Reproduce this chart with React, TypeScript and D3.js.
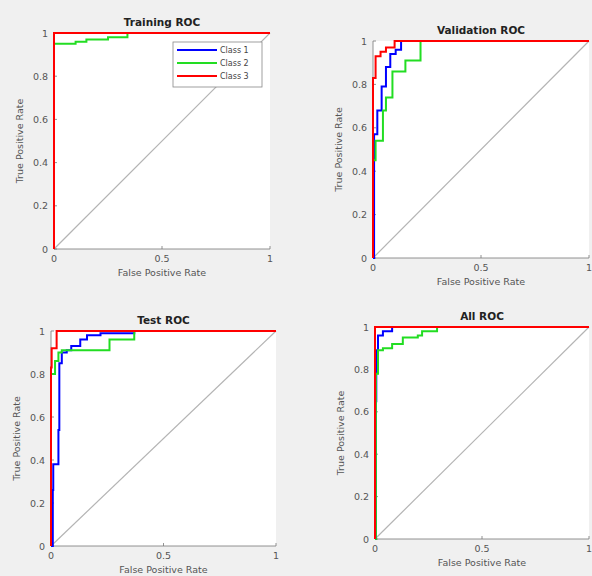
import React from "react";
import * as d3 from "d3";

type Pt = [number, number];

// ROC points as [false positive rate, true positive rate], step after each point
const classNames = ["Class 1", "Class 2", "Class 3"];
const classColors = ["#0000ff", "#22dd22", "#ff0000"];

const trainingC1: Pt[] = [[0, 0], [0, 1], [1, 1]];
const trainingC2: Pt[] = [[0, 0], [0, 0.95], [0.1, 0.96], [0.15, 0.97], [0.25, 0.98], [0.34, 1], [1, 1]];
const trainingC3: Pt[] = [[0, 0], [0, 1], [1, 1]];

const validationC1: Pt[] = [[0, 0], [0.005, 0.57], [0.02, 0.68], [0.04, 0.79], [0.06, 0.88], [0.08, 0.94], [0.105, 0.96], [0.13, 1], [1, 1]];
const validationC2: Pt[] = [[0, 0], [0, 0.45], [0.012, 0.54], [0.046, 0.68], [0.06, 0.74], [0.09, 0.86], [0.15, 0.91], [0.22, 1], [1, 1]];
const validationC3: Pt[] = [[0, 0], [0, 0.83], [0.012, 0.93], [0.035, 0.95], [0.06, 0.97], [0.1, 1], [1, 1]];

const testC1: Pt[] = [[0, 0], [0.008, 0.26], [0.01, 0.38], [0.033, 0.54], [0.037, 0.85], [0.048, 0.9], [0.07, 0.91], [0.09, 0.93], [0.13, 0.96], [0.16, 0.98], [0.22, 0.99], [0.37, 1], [1, 1]];
const testC2: Pt[] = [[0, 0], [0, 0.8], [0.018, 0.86], [0.033, 0.9], [0.048, 0.91], [0.26, 0.96], [0.37, 1], [1, 1]];
const testC3: Pt[] = [[0, 0], [0, 0.83], [0.003, 0.92], [0.025, 1], [1, 1]];

const allC1: Pt[] = [[0, 0], [0.004, 0.65], [0.006, 0.89], [0.014, 0.96], [0.037, 0.98], [0.08, 1], [1, 1]];
const allC2: Pt[] = [[0, 0], [0.004, 0.78], [0.014, 0.89], [0.037, 0.9], [0.08, 0.92], [0.13, 0.95], [0.2, 0.96], [0.22, 0.98], [0.29, 1], [1, 1]];
const allC3: Pt[] = [[0, 0], [0, 1], [1, 1]];

const xTicks = [0, 0.5, 1];
const yTicks = [0, 0.2, 0.4, 0.6, 0.8, 1];

const panels = [
  { title: "Training ROC", series: [trainingC1, trainingC2, trainingC3], box: { l: 54, r: 270, t: 33, b: 249 }, legend: true },
  { title: "Validation ROC", series: [validationC1, validationC2, validationC3], box: { l: 373, r: 589, t: 41, b: 258 }, legend: false },
  { title: "Test ROC", series: [testC1, testC2, testC3], box: { l: 51, r: 276, t: 331, b: 546 }, legend: false },
  { title: "All ROC", series: [allC1, allC2, allC3], box: { l: 375, r: 589, t: 327, b: 539 }, legend: false },
];

const font = "'DejaVu Sans', 'Liberation Sans', sans-serif";

function Panel({ p }: { p: (typeof panels)[number] }) {
  const { l, r, t, b } = p.box;
  const x = d3.scaleLinear().domain([0, 1]).range([l, r]);
  const y = d3.scaleLinear().domain([0, 1]).range([b, t]);
  const line = d3
    .line<Pt>()
    .x((d) => x(d[0]))
    .y((d) => y(d[1]))
    .curve(d3.curveStepAfter);

  return (
    <g>
      <rect x={l} y={t} width={r - l} height={b - t} fill="#fff" />
      <line x1={x(0)} y1={y(0)} x2={x(1)} y2={y(1)} stroke="#b4b4b4" strokeWidth={1.2} />
      {/* axes */}
      <line x1={l} y1={b} x2={r} y2={b} stroke="#777" strokeWidth={0.8} />
      <line x1={l} y1={t} x2={l} y2={b} stroke="#777" strokeWidth={0.8} />
      {xTicks.map((v) => (
        <g key={"x" + v}>
          <line x1={x(v)} x2={x(v)} y1={b} y2={b - 3} stroke="#777" strokeWidth={0.8} />
          <text x={x(v)} y={b + 13} textAnchor="middle" fontSize={9.5} fill="#555" fontFamily={font}>
            {String(v)}
          </text>
        </g>
      ))}
      {yTicks.map((v) => (
        <g key={"y" + v}>
          <line x1={l} x2={l + 3} y1={y(v)} y2={y(v)} stroke="#777" strokeWidth={0.8} />
          <text x={l - 6} y={y(v) + 3.5} textAnchor="end" fontSize={9.5} fill="#555" fontFamily={font}>
            {String(v)}
          </text>
        </g>
      ))}
      {p.series.map((s, i) => (
        <path key={i} d={line(s) || ""} fill="none" stroke={classColors[i]} strokeWidth={2} />
      ))}
      <text x={(l + r) / 2} y={t - 7} textAnchor="middle" fontSize={10.5} fontWeight="bold" fill="#222" fontFamily={font}>
        {p.title}
      </text>
      <text x={(l + r) / 2} y={b + 27} textAnchor="middle" fontSize={9.5} fill="#555" fontFamily={font}>
        False Positive Rate
      </text>
      <text
        transform={`translate(${l - 31},${(t + b) / 2}) rotate(-90)`}
        textAnchor="middle"
        fontSize={9.5}
        fill="#555"
        fontFamily={font}
      >
        True Positive Rate
      </text>
      {p.legend && (
        <g>
          <rect x={173} y={42} width={89} height={45} fill="#fff" stroke="#888" strokeWidth={0.8} />
          {classNames.map((name, i) => (
            <g key={name}>
              <line x1={177} x2={217} y1={50 + i * 13} y2={50 + i * 13} stroke={classColors[i]} strokeWidth={2} />
              <text x={220} y={53 + i * 13} fontSize={8} fill="#444" fontFamily={font}>
                {name}
              </text>
            </g>
          ))}
        </g>
      )}
    </g>
  );
}

export default function App() {
  return (
    <svg
      width={592}
      height={576}
      style={{ position: "absolute", left: 0, top: 0, background: "#f0f0f0" }}
    >
      {panels.map((p) => (
        <Panel key={p.title} p={p} />
      ))}
    </svg>
  );
}
